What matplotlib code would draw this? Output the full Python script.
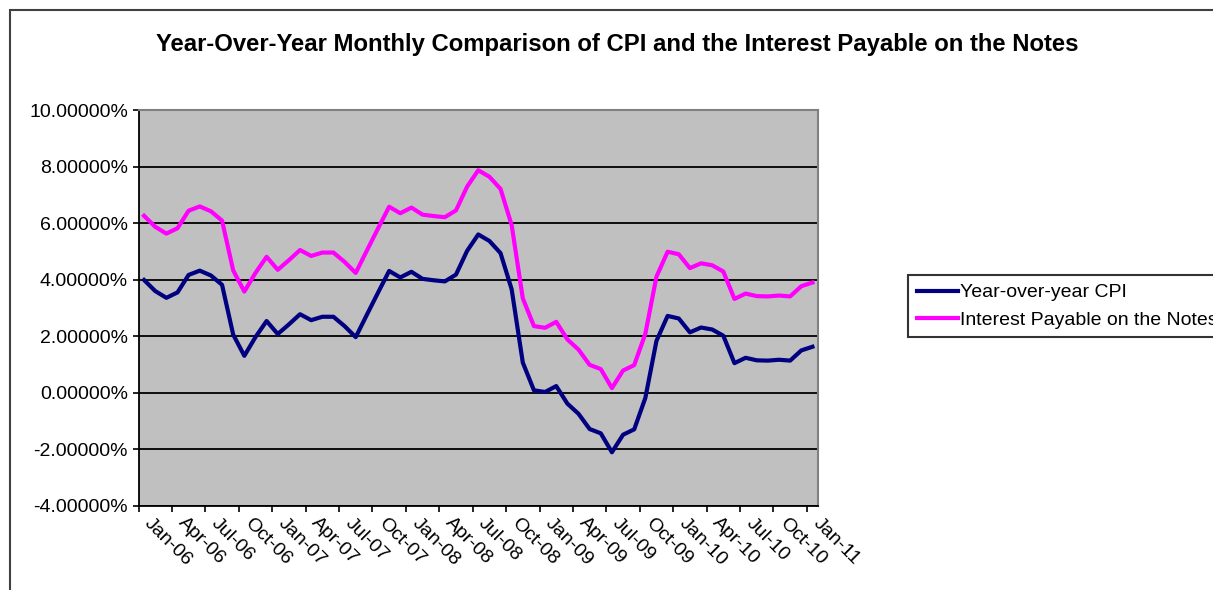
import numpy as np
import matplotlib
matplotlib.use("Agg")
import matplotlib.pyplot as plt
from matplotlib.ticker import FuncFormatter, FixedLocator, NullFormatter
from matplotlib.patches import Rectangle
from matplotlib.transforms import ScaledTranslation

plt.rcParams['font.family'] = ['Liberation Sans', 'DejaVu Sans']

# ---- data (percent), monthly Jan-06 .. Jan-11 ----
cpi = [3.99, 3.60, 3.36, 3.55, 4.17, 4.32, 4.15, 3.82, 2.06, 1.31, 1.97, 2.54,
       2.08, 2.42, 2.78, 2.57, 2.69, 2.69, 2.36, 1.97, 2.76, 3.54, 4.31, 4.08,
       4.28, 4.03, 3.98, 3.94, 4.18, 5.02, 5.60, 5.37, 4.94, 3.66, 1.07, 0.09,
       0.03, 0.24, -0.38, -0.74, -1.28, -1.43, -2.10, -1.48, -1.29, -0.18, 1.84, 2.72,
       2.63, 2.14, 2.31, 2.24, 2.02, 1.05, 1.24, 1.15, 1.14, 1.17, 1.14, 1.50,
       1.63]
notes = [6.26, 5.87, 5.63, 5.82, 6.44, 6.59, 6.42, 6.09, 4.33, 3.58, 4.24, 4.81,
         4.35, 4.69, 5.05, 4.84, 4.96, 4.96, 4.63, 4.24, 5.03, 5.81, 6.58, 6.35,
         6.55, 6.30, 6.25, 6.21, 6.45, 7.29, 7.87, 7.64, 7.21, 5.93, 3.34, 2.36,
         2.30, 2.51, 1.89, 1.53, 0.99, 0.84, 0.17, 0.79, 0.98, 2.09, 4.11, 4.99,
         4.90, 4.41, 4.58, 4.51, 4.29, 3.32, 3.51, 3.42, 3.41, 3.44, 3.41, 3.77,
         3.90]
tick_labels = ['Jan-06', 'Apr-06', 'Jul-06', 'Oct-06', 'Jan-07', 'Apr-07', 'Jul-07',
               'Oct-07', 'Jan-08', 'Apr-08', 'Jul-08', 'Oct-08', 'Jan-09', 'Apr-09',
               'Jul-09', 'Oct-09', 'Jan-10', 'Apr-10', 'Jul-10', 'Oct-10', 'Jan-11']
series_names = ['Year-over-year CPI', 'Interest Payable on the Notes']
title = 'Year-Over-Year Monthly Comparison of CPI and the Interest Payable on the Notes'

W, H = 1213, 590
fig = plt.figure(figsize=(W / 100, H / 100), dpi=100)
fig.patch.set_facecolor('white')

# outer chart frame
fig.patches.append(Rectangle((9.5 / W, -0.05), 1.2, 1 - 10 / H + 0.05,
                             transform=fig.transFigure, fill=False,
                             edgecolor='#404040', lw=1.5))

ax = fig.add_axes([138.5 / W, 1 - 506 / H, (818 - 138.5) / W, 396 / H])
ax.set_facecolor('#C0C0C0')

x = np.arange(len(cpi))
ax.plot(x, cpi, color='#000080', lw=3, label=series_names[0], solid_joinstyle='round')
ax.plot(x, notes, color='#FF00FF', lw=3, label=series_names[1], solid_joinstyle='round')

ax.set_xlim(-0.5, len(cpi) - 0.5)
ax.set_ylim(-4, 10)
ax.set_yticks(np.arange(-4, 11, 2))
ax.yaxis.set_major_formatter(FuncFormatter(lambda v, p: f'{v:.5f}%'))
ax.yaxis.grid(True, color='black', lw=1.3)
ax.set_axisbelow(True)

ax.xaxis.set_major_locator(FixedLocator(np.arange(-0.5, len(cpi), 3)))
ax.xaxis.set_major_formatter(NullFormatter())
ax.xaxis.set_minor_locator(FixedLocator(np.arange(0, len(cpi), 3)))
ax.set_xticklabels(tick_labels, minor=True)

ax.tick_params(axis='x', which='major', direction='out', length=4.5, width=1.2, color='black')
ax.tick_params(axis='x', which='minor', length=0, pad=6, labelsize=14)
ax.tick_params(axis='y', direction='out', length=4.5, width=1.2, color='black',
               labelsize=14, pad=3)

off = ScaledTranslation(9 / 100, 0, fig.dpi_scale_trans)
for lab in ax.get_xticklabels(minor=True):
    lab.set_rotation(-45)
    lab.set_ha('left')
    lab.set_va('top')
    lab.set_rotation_mode('anchor')
    lab.set_transform(lab.get_transform() + off)

for s in ['left', 'bottom']:
    ax.spines[s].set_color('black')
    ax.spines[s].set_linewidth(1.3)
for s in ['top', 'right']:
    ax.spines[s].set_color('#808080')
    ax.spines[s].set_linewidth(1.5)

fig.text(617 / W, 1 - 45 / H, title, ha='center', va='center',
         fontsize=17.2, fontweight='bold')

leg = fig.legend(loc='upper left', bbox_to_anchor=(908 / W, 1 - 275 / H),
                 bbox_transform=fig.transFigure, fontsize=14, frameon=True,
                 fancybox=False, shadow=False, borderaxespad=0, borderpad=0.45,
                 handlelength=2.1, handletextpad=0.15, labelspacing=0.5)
leg.get_frame().set_edgecolor('black')
leg.get_frame().set_linewidth(1.5)

fig.savefig('out.png', dpi=100, facecolor='white')
